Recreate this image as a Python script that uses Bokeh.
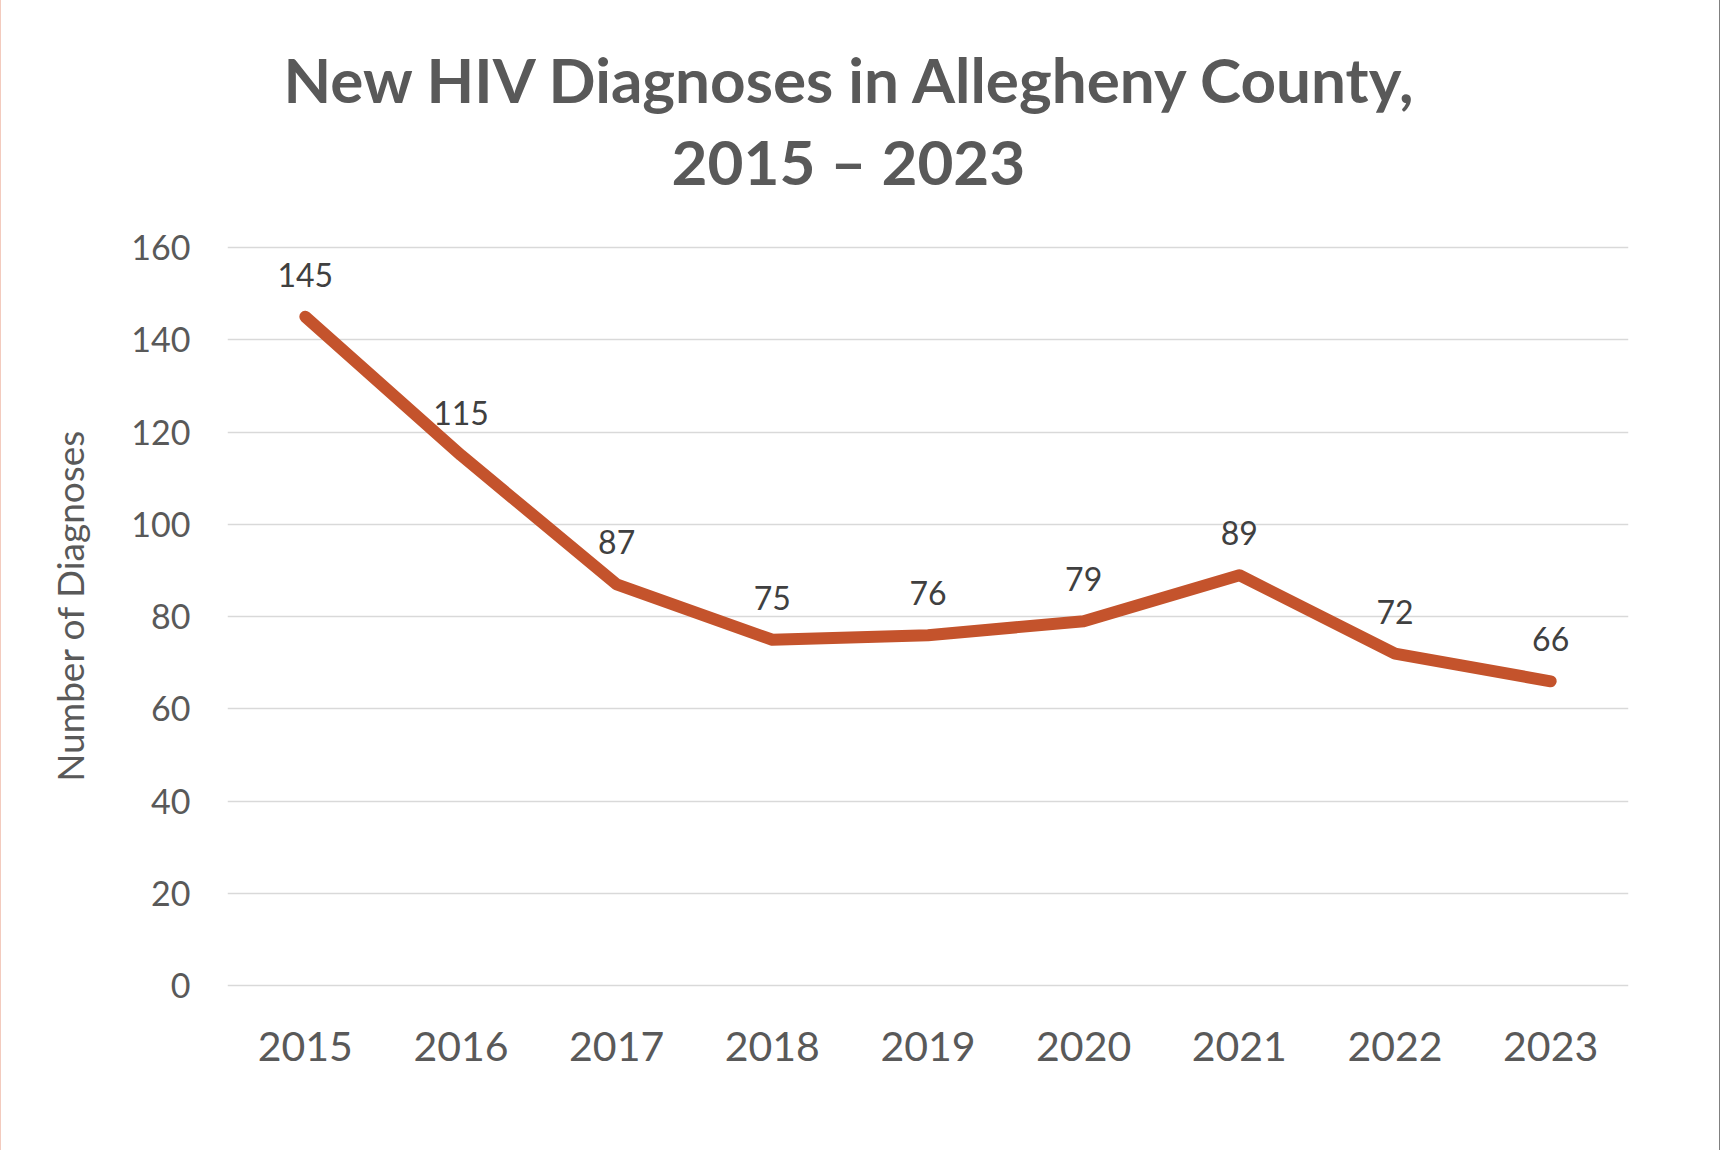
from bokeh.plotting import figure
from bokeh.models import ColumnDataSource, LabelSet, Title, FixedTicker, Range1d, FactorRange
from bokeh.core.properties import value
from bokeh.embed import file_html
from bokeh.resources import INLINE

# Annual new HIV diagnoses, Allegheny County
years = ["2015", "2016", "2017", "2018", "2019", "2020", "2021", "2022", "2023"]
diagnoses = [145, 115, 87, 75, 76, 79, 89, 72, 66]
y_ticks = [0, 20, 40, 60, 80, 100, 120, 140, 160]

title_main = "New HIV Diagnoses in Allegheny County,"
title_years = "2015 \u2013 2023"
y_title = "Number of Diagnoses"

FONT = "Lato"
GREY = "#595959"
DARK = "#404040"
LINE = "#C4532C"
GRID = "#D9D9D9"

source = ColumnDataSource(dict(
    year=years,
    value=diagnoses,
    label=[str(v) for v in diagnoses],
))

p = figure(
    width=1720, height=1150,
    x_range=FactorRange(factors=years),
    y_range=Range1d(-1, 165.85),
    output_backend="svg", toolbar_location=None,
    min_border_left=226, min_border_right=93,
    min_border_top=220, min_border_bottom=160,
    background_fill_color="white", border_fill_color="white",
)
p.outline_line_color = None
p.styles = {"border-left": "1px solid #F3CBBE", "border-right": "1px solid #808080"}

# axes: no lines or ticks, grey labels
for ax in (p.xaxis[0], p.yaxis[0]):
    ax.axis_line_color = None
    ax.major_tick_line_color = None
    ax.minor_tick_line_color = None
    ax.major_label_text_font = FONT
    ax.major_label_text_color = GREY

p.yaxis.ticker = FixedTicker(ticks=y_ticks)
p.yaxis.major_label_text_font_size = "34px"
p.yaxis.major_label_standoff = 31
p.yaxis.axis_label = y_title
p.yaxis.axis_label_text_font = FONT
p.yaxis.axis_label_text_font_size = "37px"
p.yaxis.axis_label_text_font_style = "normal"
p.yaxis.axis_label_text_color = GREY
p.yaxis.axis_label_standoff = 36

p.xaxis.major_label_text_font_size = "41px"
p.xaxis.major_label_standoff = 35

p.xgrid.grid_line_color = None
p.ygrid.grid_line_color = GRID
p.ygrid.grid_line_width = 1.6

p.line(x="year", y="value", source=source, line_width=12, line_color=LINE,
       line_cap="round", line_join="round")

p.add_layout(LabelSet(
    x="year", y="value", text="label", source=source,
    text_align="center", text_baseline="alphabetic", y_offset=30,
    text_font=value(FONT), text_font_size="32px", text_color=DARK,
))

# two-line heading: the years line sits next to the plot, the main line above it
heading = dict(text_font=FONT, text_font_size="62px", text_font_style="bold",
               text_color=GREY, align="left")
p.add_layout(Title(text=title_years, offset=444, standoff=46, **heading), "above")
p.add_layout(Title(text=title_main, offset=56, standoff=-34, **heading), "above")

open("out.html", "w").write(file_html(p, INLINE))
